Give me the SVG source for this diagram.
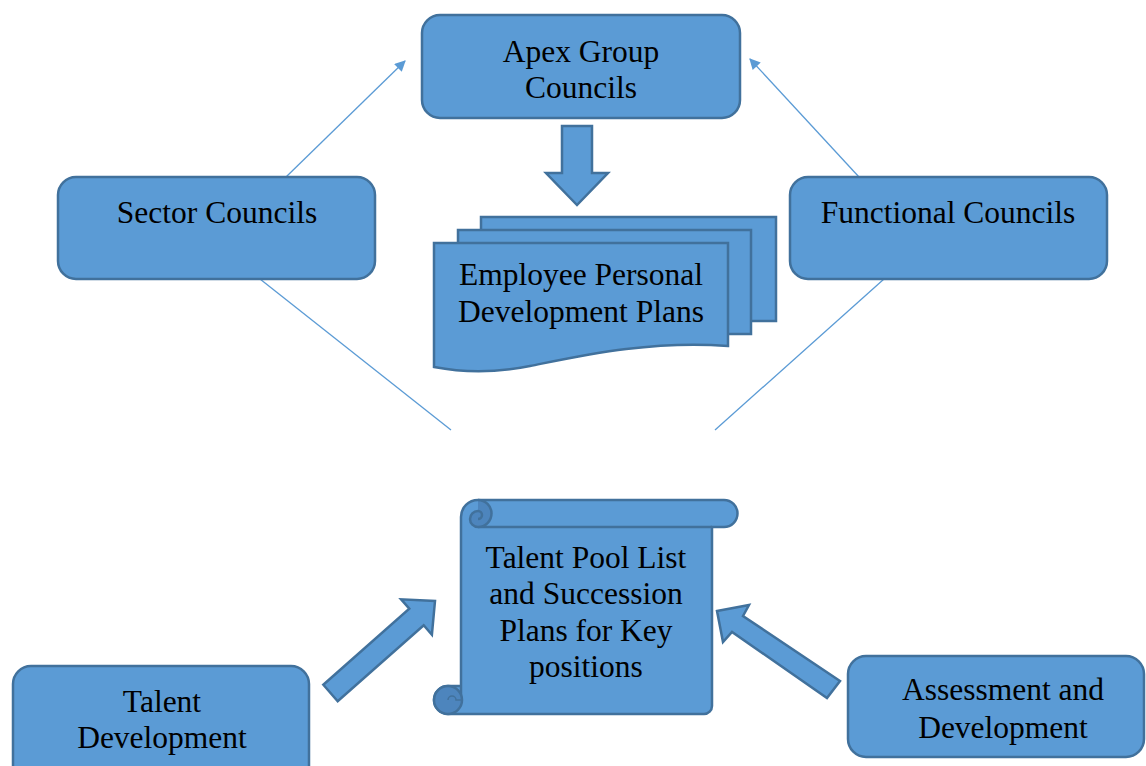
<svg xmlns="http://www.w3.org/2000/svg" width="1146" height="766" viewBox="0 0 1146 766">
<style>
.box{fill:#5B9BD5;stroke:#41719C;stroke-width:2.5}
.dark{fill:#4D85BD;stroke:#41719C;stroke-width:2.5}
.ln{fill:none;stroke:#41719C;stroke-width:2.5}
.conn{fill:none;stroke:#5B9BD5;stroke-width:1.3}
.t{font-family:'Liberation Serif','DejaVu Serif',serif;font-size:31.5px;fill:#000;text-anchor:middle}
</style>
<defs>
<marker id="ah" viewBox="0 0 10 10" refX="9" refY="5" markerWidth="14" markerHeight="11" markerUnits="userSpaceOnUse" orient="auto">
<path d="M0,0 L10,5 L0,10 Z" fill="#5B9BD5"/>
</marker>
</defs>
<rect width="1146" height="766" fill="#fff"/>
<g id="connectors">
<line class="conn" x1="286" y1="177" x2="405" y2="61" marker-end="url(#ah)"/>
<line class="conn" x1="859" y1="177" x2="750" y2="59" marker-end="url(#ah)"/>
<line class="conn" x1="260" y1="279" x2="451" y2="430"/>
<line class="conn" x1="884" y1="279" x2="715" y2="430"/>
<polygon class="box" points="562,126 592,126 592,173 608,173 577,205 546,173 562,173"/>
<polygon class="box" points="323.3,684.7 409.3,608.7 401.1,599.3 435,601 431.9,634.7 423.7,625.3 337.7,701.3"/>
<polygon class="box" points="717,611 749,605 743,616 840,681 827,698 732,632 723,642"/>
</g>
<g id="apex">
<rect class="box" x="422" y="15" width="318" height="103" rx="18"/>
<text class="t" x="581" y="62">Apex Group</text>
<text class="t" x="581" y="98">Councils</text>
</g>
<g id="sector">
<rect class="box" x="58" y="177" width="317" height="102" rx="18"/>
<text class="t" x="217" y="223">Sector Councils</text>
</g>
<g id="functional">
<rect class="box" x="790" y="177" width="317" height="102" rx="18"/>
<text class="t" x="948" y="223">Functional Councils</text>
</g>
<g id="epdp">
<rect class="box" x="481" y="217" width="295" height="104"/>
<rect class="box" x="458" y="230" width="293" height="104"/>
<path class="box" d="M434,243 H728 V346 C650,340 580,356 530,366 C490,374 460,372 434,367 Z"/>
<text class="t" x="581" y="285">Employee Personal</text>
<text class="t" x="581" y="322">Development Plans</text>
</g>
<g id="scroll">
<path class="box" d="M461,698 V517 A17,17 0 0 1 478,500 H724 A13.5,13.5 0 0 1 724,527 H712 V706 A8,8 0 0 1 704,714 H448 A14,14 0 0 1 448,686 H461 Z"/>
<path class="ln" d="M478,527 H712"/>
<path class="dark" d="M478,500 A13.5,13.5 0 0 1 478,527 A8,8 0 0 1 470,519 A8,8 0 0 1 478,511 A4,4 0 0 1 478,519"/>
<circle class="dark" cx="448" cy="700" r="14"/>
<path class="ln" d="M448,700 A4,4 0 0 1 452,696 A4,4 0 0 1 456,700 H461" style="stroke-width:1.5"/>
<text class="t" x="586" y="568">Talent Pool List</text>
<text class="t" x="586" y="604">and Succession</text>
<text class="t" x="586" y="641">Plans for Key</text>
<text class="t" x="586" y="677">positions</text>
</g>
<g id="talentdev">
<rect class="box" x="13" y="666" width="296" height="124" rx="18"/>
<text class="t" x="162" y="712">Talent</text>
<text class="t" x="162" y="748">Development</text>
</g>
<g id="assessment">
<rect class="box" x="848" y="656" width="296" height="101" rx="18"/>
<text class="t" x="1003" y="700">Assessment and</text>
<text class="t" x="1003" y="738">Development</text>
</g>
</svg>
